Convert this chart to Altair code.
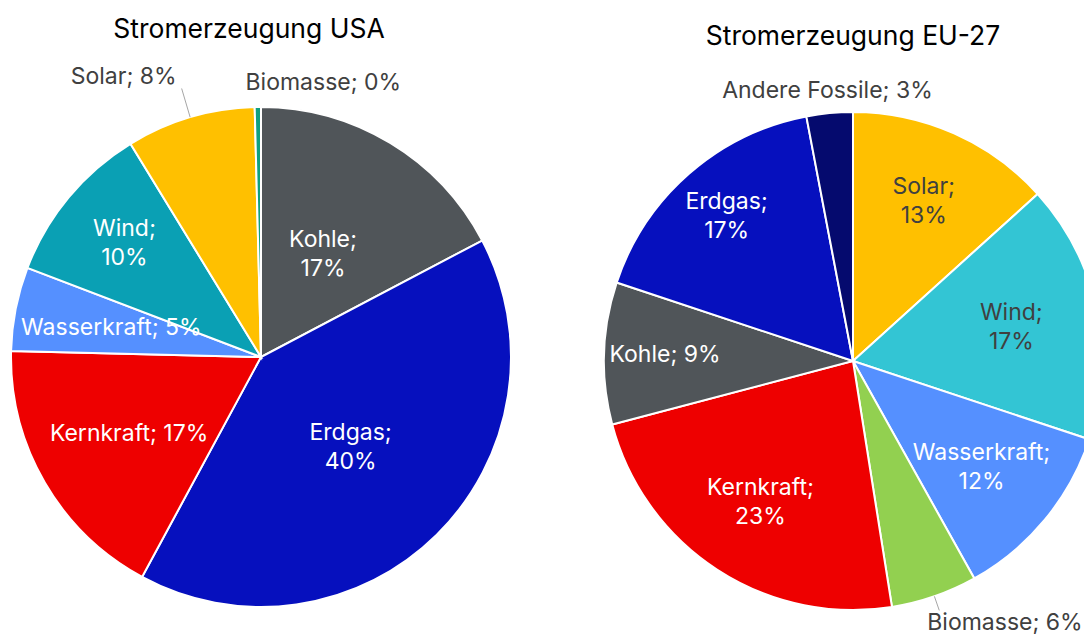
import json
import altair as alt
import pandas as pd

# ---------------- data ----------------
usa_title = "Stromerzeugung USA"
usa_cats = ["Kohle", "Erdgas", "Kernkraft", "Wasserkraft", "Wind", "Solar", "Biomasse"]
usa_vals = [17.2, 40.4, 17.4, 5.4, 10.4, 8.3, 0.4]

eu_title = "Stromerzeugung EU-27"
eu_cats = ["Solar", "Wind", "Wasserkraft", "Biomasse", "Kernkraft", "Kohle", "Erdgas", "Andere Fossile"]
eu_vals = [13.3, 16.8, 11.8, 5.6, 23.4, 9.2, 16.9, 3.0]

# ---------------- styles / layout ----------------
usa_colors = ["#505559", "#0610BE", "#EE0000", "#5590FF", "#0AA0B4", "#FFC000", "#10A080"]
eu_colors = ["#FFC000", "#33C5D4", "#5590FF", "#92D050", "#EE0000", "#505559", "#0610BE", "#050A6E"]

# label distance from the pie centre, as a fraction of the radius (inside labels)
usa_label_r = [0.48, 0.51, 0.61, 0.61, 0.71, 1.0, 1.0]
eu_label_r = [0.70, 0.65, 0.67, 1.0, 0.68, 0.755, 0.77, 1.0]

FONT = "Inter"
LABEL_SIZE = 23
LINE_H = 29
TITLE_SIZE = 26.5
DARK = "#404040"


def pie(title, cats, vals, colors, label_r, cx, cy, R, title_x, title_y, single_line,
        dark_text, outside):
    df = pd.DataFrame({"cat": cats, "v": vals, "idx": list(range(len(cats)))})
    single = json.dumps(single_line)
    dark = json.dumps(dark_text)
    out_names = json.dumps([o["cat"] for o in outside])

    base = (
        alt.Chart(df)
        .transform_window(cum="sum(v)", sort=[alt.SortField("idx")], frame=[None, 0])
        .transform_joinaggregate(total="sum(v)")
        .transform_calculate(
            mid="(datum.cum - datum.v / 2) / datum.total * 2 * PI",
            one=f"indexof({single}, datum.cat) >= 0",
            tc=f"indexof({dark}, datum.cat) >= 0 ? '{DARK}' : 'white'",
            rf=f"{json.dumps(label_r)}[datum.idx]",
        )
        .transform_calculate(
            label="datum.cat + (datum.one ? '; ' : ';\\n') + round(datum.v) + '%'",
        )
    )

    arcs = (
        alt.Chart(df)
        .mark_arc(radius=R, stroke="white", strokeWidth=2)
        .encode(
            theta=alt.Theta("v:Q", stack=True),
            color=alt.Color("cat:N", scale=alt.Scale(domain=cats, range=colors), legend=None),
            order=alt.Order("idx:Q"),
            x=alt.value(cx),
            y=alt.value(cy),
        )
    )

    inside = (
        base.transform_filter(f"indexof({out_names}, datum.cat) < 0")
        .transform_calculate(
            lx=f"{cx} + datum.rf * {R} * sin(datum.mid)",
            ly=f"{cy} - datum.rf * {R} * cos(datum.mid) - (datum.one ? 0 : {LINE_H / 2})",
        )
        .mark_text(font=FONT, fontSize=LABEL_SIZE, lineBreak="\n", lineHeight=LINE_H,
                   align="center", baseline="middle")
        .encode(
            x=alt.X("lx:Q", scale=None),
            y=alt.Y("ly:Q", scale=None),
            text="label:N",
            color=alt.Color("tc:N", scale=None),
        )
    )

    layers = [arcs, inside]

    for o in outside:
        sel = base.transform_filter(alt.datum.cat == o["cat"]).transform_calculate(
            x1=f"{cx} + {R} * sin(datum.mid)",
            y1=f"{cy} - {R} * cos(datum.mid)",
            lx=f"{cx} + {R * o['k']} * sin(datum.mid)",
            ly=f"{cy} - {R * o['k']} * cos(datum.mid)",
        )
        if o.get("leader"):
            layers.append(
                sel.mark_rule(color="#A6A6A6", strokeWidth=1).encode(
                    x=alt.X("x1:Q", scale=None), y=alt.Y("y1:Q", scale=None),
                    x2="lx:Q", y2="ly:Q",
                )
            )
        layers.append(
            sel.mark_text(font=FONT, fontSize=LABEL_SIZE, color=DARK,
                          align=o["align"], baseline=o["baseline"],
                          dx=o.get("dx", 0), dy=o.get("dy", 0))
            .encode(x=alt.X("lx:Q", scale=None), y=alt.Y("ly:Q", scale=None), text="label:N")
        )

    ttl = (
        alt.Chart(pd.DataFrame({"t": [title]}))
        .mark_text(font=FONT, fontSize=TITLE_SIZE, color="black", align="center", baseline="middle")
        .encode(x=alt.value(title_x), y=alt.value(title_y), text="t:N")
    )
    layers.append(ttl)
    return alt.layer(*layers).resolve_scale(theta="independent", color="independent")


usa = pie(
    usa_title, usa_cats, usa_vals, usa_colors, usa_label_r,
    cx=253, cy=349, R=250, title_x=241, title_y=22,
    single_line=["Wasserkraft", "Kernkraft", "Solar", "Biomasse"],
    dark_text=[],
    outside=[
        {"cat": "Solar", "k": 1.12, "leader": True, "align": "right", "baseline": "alphabetic",
         "dx": -5, "dy": -4},
        {"cat": "Biomasse", "k": 1.1, "align": "left", "baseline": "middle", "dx": -12, "dy": 1},
    ],
)

eu = pie(
    eu_title, eu_cats, eu_vals, eu_colors, eu_label_r,
    cx=845, cy=353, R=249, title_x=845, title_y=29,
    single_line=["Kohle", "Andere Fossile", "Biomasse"],
    dark_text=["Solar", "Wind"],
    outside=[
        {"cat": "Andere Fossile", "k": 1.09, "align": "center", "baseline": "middle"},
        {"cat": "Biomasse", "k": 1.06, "leader": True, "align": "left", "baseline": "top",
         "dx": -12, "dy": 2},
    ],
)

chart = (
    alt.layer(usa, eu)
    .resolve_scale(theta="independent", color="independent")
    .properties(width=1076, height=628, autosize=alt.AutoSizeParams(type="none"), padding=0)
    .configure_view(stroke=None)
)

chart.save("out.html", embed_options={"renderer": "svg", "actions": False})
